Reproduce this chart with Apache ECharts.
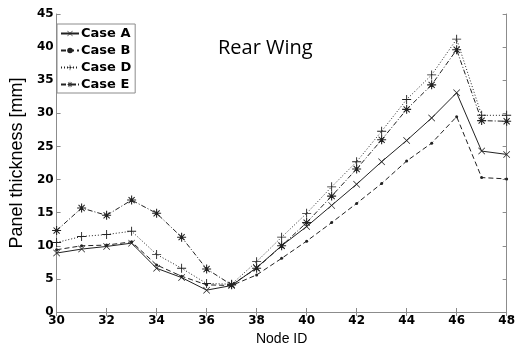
<!DOCTYPE html>
<html><head><meta charset="utf-8">
<script src="https://cdn.jsdelivr.net/npm/echarts@6/dist/echarts.min.js"></script>
<style>html,body{margin:0;padding:0;background:#fff}#c{width:518px;height:351px}</style>
</head><body><div id="c"></div>
<script>
var nodes = [30,31,32,33,34,35,36,37,38,39,40,41,42,43,44,45,46,47,48];
var caseA = [8.9,9.5,9.9,10.4,6.6,5.2,3.3,4.0,6.7,10.0,12.9,16.1,19.3,22.7,25.9,29.3,33.1,24.3,23.8];
var caseB = [9.4,10.0,10.1,10.6,7.1,5.4,4.1,4.0,5.6,8.1,10.7,13.5,16.4,19.4,22.8,25.5,29.5,20.3,20.1];
var caseD = [10.5,11.4,11.7,12.2,8.7,6.6,4.3,4.2,7.6,11.3,14.9,18.9,22.7,27.3,32.1,35.8,41.2,29.7,29.7];
var caseE = [12.3,15.7,14.6,16.9,14.9,11.3,6.5,4.1,6.6,10.0,13.5,17.5,21.6,26.0,30.6,34.3,39.6,28.9,28.8];
var names = ['Case A','Case B','Case D','Case E'];
var xTicks = [30,48,2];
var yTicks = [0,45,5];

function pairs(v){ return nodes.map(function(n,i){ return [n, v[i]]; }); }

var plus = 'path://M-0.5,-5L0.5,-5L0.5,-0.5L5,-0.5L5,0.5L0.5,0.5L0.5,5L-0.5,5L-0.5,0.5L-5,0.5L-5,-0.5L-0.5,-0.5Z';
var cross = 'path://M-5,-4.3L-4.3,-5L0,-0.7L4.3,-5L5,-4.3L0.7,0L5,4.3L4.3,5L0,0.7L-4.3,5L-5,4.3L-0.7,0Z';
var star = 'path://M-0.6,-5L0.6,-5L0.6,-0.6L5,-0.6L5,0.6L0.6,0.6L0.6,5L-0.6,5L-0.6,0.6L-5,0.6L-5,-0.6L-0.6,-0.6Z' +
           'M-3.8,-3L-3,-3.8L0,-0.8L3,-3.8L3.8,-3L0.8,0L3.8,3L3,3.8L0,0.8L-3,3.8L-3.8,3L-0.8,0Z';

var gray = '#8c8c8c';
var tickFont = {fontFamily:'DejaVu Sans', fontWeight:'bold', fontSize:12, color:'#000'};

function mkSeries(name, vals, sym, size, dash){
  return {
    name: name, type:'line', data: pairs(vals), symbol: sym, symbolSize: size,
    showAllSymbol: true, animation:false,
    lineStyle:{color:'#222', width:1, type: dash},
    itemStyle:{color:'#222'},
    emphasis:{disabled:true}
  };
}

var chart = echarts.init(document.getElementById('c'));
chart.setOption({
  animation:false,
  backgroundColor:'#fff',
  grid:{left:45, right:7, top:14, bottom:34},
  legend:{
    data: names, orient:'vertical', left:57, top:24,
    padding:[2,4,1,3], itemGap:2, itemWidth:18, itemHeight:7,
    borderColor: gray, borderWidth:1, backgroundColor:'#fff',
    textStyle:{fontFamily:'DejaVu Sans', fontWeight:'bold', fontSize:13, color:'#000', padding:[0,0,0,-3], lineHeight:15}
  },
  graphic:[{type:'text', left:218, top:38, style:{text:'Rear Wing', font:'20px "Open Sans"', fill:'#000'}}],
  xAxis:[{
    type:'value', min:xTicks[0], max:xTicks[1], interval:xTicks[2],
    name:'Node ID', nameLocation:'middle', nameGap:20,
    nameTextStyle:{fontFamily:'Liberation Sans', fontSize:14, color:'#000'},
    axisLine:{lineStyle:{color:gray}}, axisTick:{inside:true, length:4, lineStyle:{color:gray}},
    axisLabel: Object.assign({margin:3}, tickFont), splitLine:{show:false}
  },{
    type:'value', position:'top', min:xTicks[0], max:xTicks[1], interval:xTicks[2],
    axisLine:{lineStyle:{color:gray}}, axisTick:{inside:true, length:4, lineStyle:{color:gray}},
    axisLabel:{show:false}, splitLine:{show:false}
  }],
  yAxis:[{
    type:'value', min:yTicks[0], max:yTicks[1], interval:yTicks[2],
    name:'Panel thickness [mm]', nameLocation:'middle', nameGap:22,
    nameTextStyle:{fontFamily:'Liberation Sans', fontSize:18, color:'#000'},
    axisLine:{show:true, lineStyle:{color:gray}}, axisTick:{show:true, inside:true, length:4, lineStyle:{color:gray}},
    axisLabel: Object.assign({margin:3}, tickFont), splitLine:{show:false}
  },{
    type:'value', position:'right', min:yTicks[0], max:yTicks[1], interval:yTicks[2],
    axisLine:{show:true, lineStyle:{color:gray}}, axisTick:{show:true, inside:true, length:4, lineStyle:{color:gray}},
    axisLabel:{show:false}, splitLine:{show:false}
  }],
  series:[
    mkSeries(names[0], caseA, cross, 7, 'solid'),
    mkSeries(names[1], caseB, 'circle', 3, [5,3]),
    mkSeries(names[2], caseD, plus, 9, [1,2]),
    mkSeries(names[3], caseE, star, 9, [5,2,1,2])
  ]
});
</script></body></html>
